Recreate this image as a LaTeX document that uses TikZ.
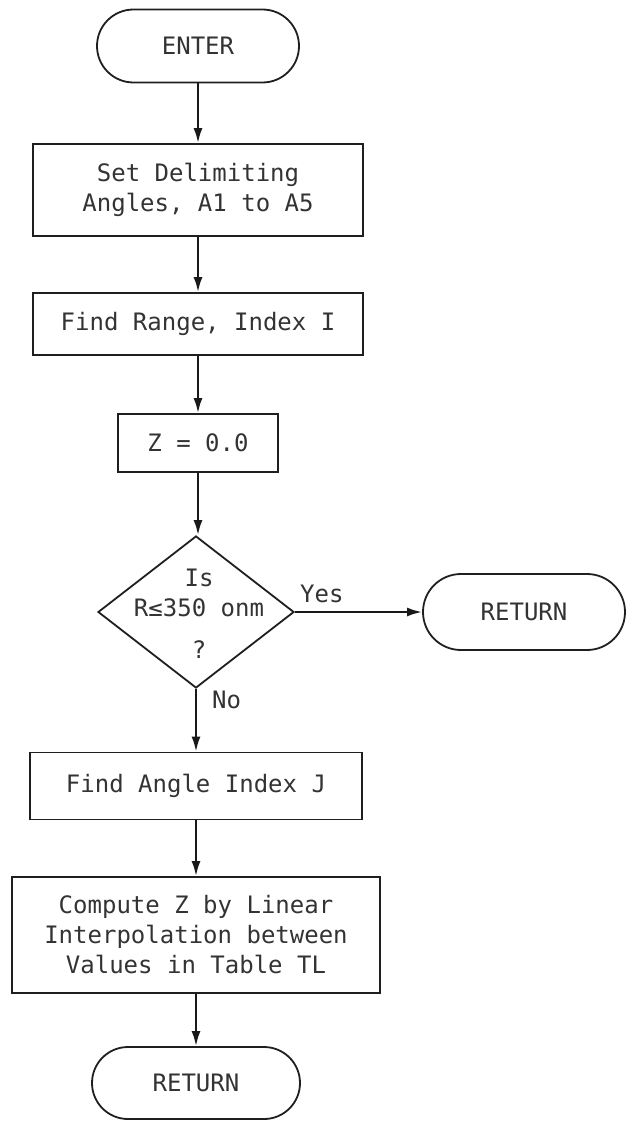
\documentclass[tikz,border=0pt]{standalone}
\usepackage{fontspec}
% even-pitch sans lettering, as on a plotter-drawn chart
\setmainfont{DejaVu Sans Mono}
\usetikzlibrary{shapes.misc,shapes.geometric,arrows.meta}
\begin{document}
\begin{tikzpicture}[x=1pt,y=-1pt,
  ink/.style={draw=black!88,line width=1.8pt},
  procbox/.style={ink,rectangle,inner sep=0pt,align=center,text=black!80},
  termbox/.style={ink,rounded rectangle,inner sep=0pt,align=center,text=black!80},
  flow/.style={black!90,line width=2.2pt,-{Latex[length=15pt,width=9pt]}},
  lbl/.style={text=black!80,inner sep=0pt},
  every node/.append style={font=\fontsize{24}{30}\selectfont}]
\useasboundingbox (0,0) rectangle (635,1121);

% main column
\node[termbox,minimum width=202pt,minimum height=73pt] (enter) at (198,46) {ENTER};
\node[procbox,minimum width=330pt,minimum height=92pt] (setang) at (198,190)
  {Set Delimiting\\Angles, A1 to A5};
\node[procbox,minimum width=330pt,minimum height=62pt] (range) at (198,324)
  {Find Range, Index I};
\node[procbox,minimum width=160pt,minimum height=58pt] (zinit) at (198,443)
  {Z = 0.0};

% decision
\node[ink,diamond,minimum width=196pt,minimum height=152pt,inner sep=0pt] (dec) at (196,612) {};
\node[lbl,align=center] (dectext) at (199,614)
  {Is\\R≤350 onm\\[12pt]?};
\node[termbox,minimum width=202pt,minimum height=76pt] (ret1) at (524,612) {RETURN};
\node[lbl,anchor=base west] (yes) at (300,602) {Yes};
\node[lbl,anchor=west] (no) at (212,700) {No};

% lower column
\node[procbox,minimum width=332pt,minimum height=67pt] (angle) at (196,786)
  {Find Angle Index J};
\node[procbox,minimum width=368pt,minimum height=116pt] (compute) at (196,935)
  {Compute Z by Linear\\Interpolation between\\Values in Table TL};
\node[termbox,minimum width=208pt,minimum height=72pt] (ret2) at (196,1083) {RETURN};

% connectors
\draw[flow] (enter.south) -- (enter.south |- setang.north);
\draw[flow] (setang.south) -- (range.north);
\draw[flow] (range.south) -- (zinit.north);
\draw[flow] (zinit.south) -- (zinit.south |- dec.north);
\draw[flow] (dec.east) -- (ret1.west);
\draw[flow] (dec.south) -- (angle.north);
\draw[flow] (angle.south) -- (compute.north);
\draw[flow] (compute.south) -- (ret2.north);
\end{tikzpicture}
\end{document}
